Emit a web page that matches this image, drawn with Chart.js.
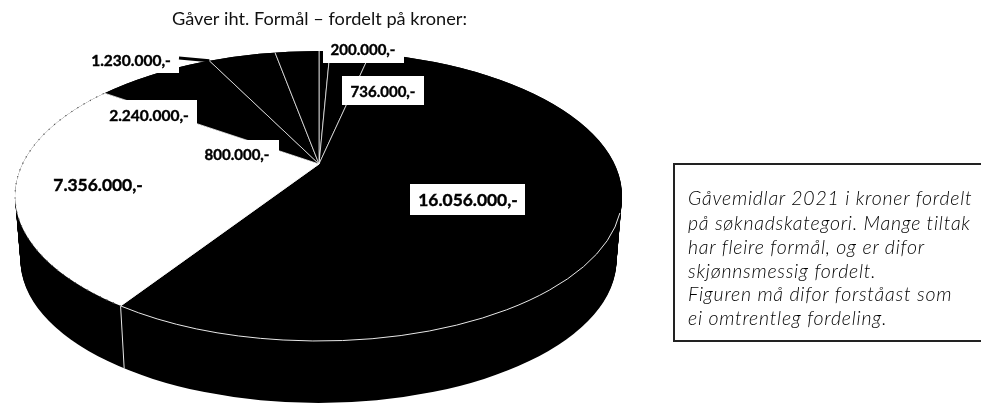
<!DOCTYPE html>
<html>
<head>
<meta charset="utf-8">
<script src="https://cdn.jsdelivr.net/npm/chart.js@4"></script>
<style>
    html, body { margin: 0; padding: 0; background: #fff; overflow: hidden; }
    #wrap { position: relative; width: 981px; height: 403px; overflow: hidden; }
    #pie { position: absolute; left: 0; top: 0; }
    #note {
        position: absolute; left: 673px; top: 163px; width: 320px; height: 175px;
        border: 2px solid #222; box-sizing: content-box;
        font: italic 300 19.5px Lato, sans-serif; color: #000; letter-spacing: 0.75px;
    }
    #note div { position: absolute; left: 13px; white-space: pre; line-height: 24px; }
</style>
</head>
<body>
<div id="wrap">
    <canvas id="pie" width="981" height="403"></canvas>
    <div id="note"></div>
</div>
<script>
const titleText = "Gåver iht. Formål – fordelt på kroner:";
const slices = ["200", "736", "16056", "7356", "2240", "1230", "800"];
const values = [200000, 736000, 16056000, 7356000, 2240000, 1230000, 800000];
const sliceColors = ["#000", "#000", "#000", "#fff", "#000", "#000", "#000"];
const noteLines = [
    "Gåvemidlar 2021 i kroner fordelt",
    "på søknadskategori. Mange tiltak",
    "har fleire formål, og er difor",
    "skjønnsmessig fordelt.",
    "Figuren må difor forståast som",
    "ei omtrentleg fordeling."
];

// where the label boxes sit: [value index, box x, y, w, h, text centre x, y, font px]
const labelPlaces = [
    [0, 323, 38, 81, 25, 363, 50, 15],
    [1, 342, 76, 82, 29, 383, 92, 15],
    [2, 410, 184, 115, 31, 468, 200, 17.4],
    [3, 0, 0, 0, 0, 98, 185, 17.4],
    [4, 96, 100, 101, 27, 149, 116, 15.5],
    [5, 85, 45, 94, 28, 131, 61, 15.5],
    [6, 200, 140, 79, 26, 237, 155, 15]
];

// tilted disc, all in canvas px
const apex = { x: 319, y: 164 };
const tiltBack = 0.45;
const tiltFront = 0.478;
const top_ = { x: 318.5, y: 196, rx: 303.5, ry: 145 };
const bottom = { x: 318.5, y: 260, rx: 298, ry: 143 };
const rimStart = 0.117;

function money(v) {
    const s = String(v).replace(/\B(?=(\d{3})+$)/g, ".");
    return s + ",-";
}

// where the slice edge at this angle meets the top ellipse
function rimAngle(a) {
    const tilt = Math.sin(a) < 0 ? tiltBack : tiltFront;
    const dx = Math.cos(a) / top_.rx, dy = tilt * Math.sin(a) / top_.ry;
    const ox = (apex.x - top_.x) / top_.rx, oy = (apex.y - top_.y) / top_.ry;
    const A = dx * dx + dy * dy, B = 2 * (ox * dx + oy * dy), C = ox * ox + oy * oy - 1;
    const u = (-B + Math.sqrt(B * B - 4 * A * C)) / (2 * A);
    let t = Math.atan2(oy + u * dy, ox + u * dx);
    if (t < 0) t += Math.PI * 2;
    return t;
}

function squash(ctx, arc, tilt) {
    const s = 400 / arc.outerRadius;
    ctx.translate(apex.x, apex.y);
    ctx.scale(s, s * tilt);
    ctx.translate(-arc.x, -arc.y);
}

function rimClip(ctx) {
    ctx.beginPath();
    ctx.ellipse(top_.x, top_.y, top_.rx, top_.ry, 0, 0, Math.PI * 2);
    ctx.clip();
}

const discPlugin = {
    id: "disc",
    beforeDatasetsDraw(chart) {
        const ctx = chart.ctx;
        const arcs = chart.getDatasetMeta(0).data;
        // side wall first
        ctx.save();
        ctx.fillStyle = "#000";
        for (let d = 0; d <= 1; d += 1 / 64) {
            ctx.beginPath();
            ctx.ellipse(top_.x, top_.y + (bottom.y - top_.y) * d,
                top_.rx + (bottom.rx - top_.rx) * d, top_.ry + (bottom.ry - top_.ry) * d,
                0, 0, Math.PI * 2);
            ctx.fill();
        }
        ctx.restore();
        // back half of the slices, squashed and cut by the rim
        ctx.save();
        rimClip(ctx);
        ctx.beginPath();
        ctx.rect(0, 0, chart.width, apex.y);
        ctx.clip();
        squash(ctx, arcs[0], tiltBack);
        arcs.forEach(a => a.draw(ctx));
        ctx.restore();
        // front half is drawn by the chart itself
        ctx.save();
        rimClip(ctx);
        ctx.beginPath();
        ctx.rect(0, apex.y, chart.width, chart.height);
        ctx.clip();
        squash(ctx, arcs[0], tiltFront);
    },
    afterDatasetsDraw(chart) {
        const ctx = chart.ctx;
        ctx.restore();
        const arcs = chart.getDatasetMeta(0).data;
        const seam = rimAngle(arcs[2].endAngle);
        const whiteEnd = rimAngle(arcs[3].endAngle);

        // rim line over the wall
        ctx.save();
        ctx.strokeStyle = "#e8e8e8";
        ctx.lineWidth = 1;
        ctx.beginPath();
        ctx.ellipse(top_.x, top_.y, top_.rx, top_.ry, 0, rimStart, seam);
        ctx.stroke();
        // seam down the wall
        ctx.beginPath();
        ctx.moveTo(top_.x + top_.rx * Math.cos(seam), top_.y + top_.ry * Math.sin(seam));
        ctx.lineTo(bottom.x + bottom.rx * Math.cos(seam), bottom.y + bottom.ry * Math.sin(seam));
        ctx.stroke();
        // speckled edge of the white slice
        ctx.strokeStyle = "#555";
        ctx.lineWidth = 1.2;
        ctx.setLineDash([1.2, 6]);
        ctx.beginPath();
        ctx.ellipse(top_.x, top_.y, top_.rx, top_.ry, 0, seam, whiteEnd);
        ctx.stroke();
        ctx.restore();

        // labels
        ctx.save();
        ctx.textAlign = "center";
        ctx.textBaseline = "middle";
        labelPlaces.forEach(p => {
            if (p[3] > 0) {
                ctx.fillStyle = "#fff";
                ctx.fillRect(p[1], p[2], p[3], p[4]);
            }
        });
        // leader of the 1.230.000 label
        const t = rimAngle(arcs[4].endAngle);
        ctx.strokeStyle = "#000";
        ctx.lineWidth = 3;
        ctx.beginPath();
        ctx.moveTo(179, 58);
        ctx.lineTo(top_.x + top_.rx * Math.cos(t), top_.y + top_.ry * Math.sin(t));
        ctx.stroke();
        ctx.fillStyle = "#000";
        ctx.strokeStyle = "#000";
        ctx.lineWidth = 0.4;
        labelPlaces.forEach(p => {
            ctx.font = "bold " + p[7] + "px Lato, sans-serif";
            const label = money(values[p[0]]);
            ctx.fillText(label, p[5], p[6]);
            ctx.strokeText(label, p[5], p[6]);
        });
        ctx.font = "18.2px Lato, sans-serif";
        ctx.fillStyle = "#111";
        ctx.fillText(titleText, 319.5, 19);
        ctx.restore();
    }
};

new Chart(document.getElementById("pie"), {
    type: "pie",
    data: {
        labels: slices,
        datasets: [{
            data: values,
            backgroundColor: sliceColors,
            borderColor: "#fff",
            borderWidth: 0.5,
            clip: false
        }]
    },
    options: {
        responsive: false,
        animation: false,
        events: [],
        plugins: { legend: { display: false }, title: { display: false }, tooltip: { enabled: false } }
    },
    plugins: [discPlugin]
});

const note = document.getElementById("note");
const noteTops = [21, 46, 70, 94, 117, 141];
noteLines.forEach((line, i) => {
    const d = document.createElement("div");
    d.textContent = line;
    d.style.top = noteTops[i] + "px";
    note.appendChild(d);
});
</script>
</body>
</html>
